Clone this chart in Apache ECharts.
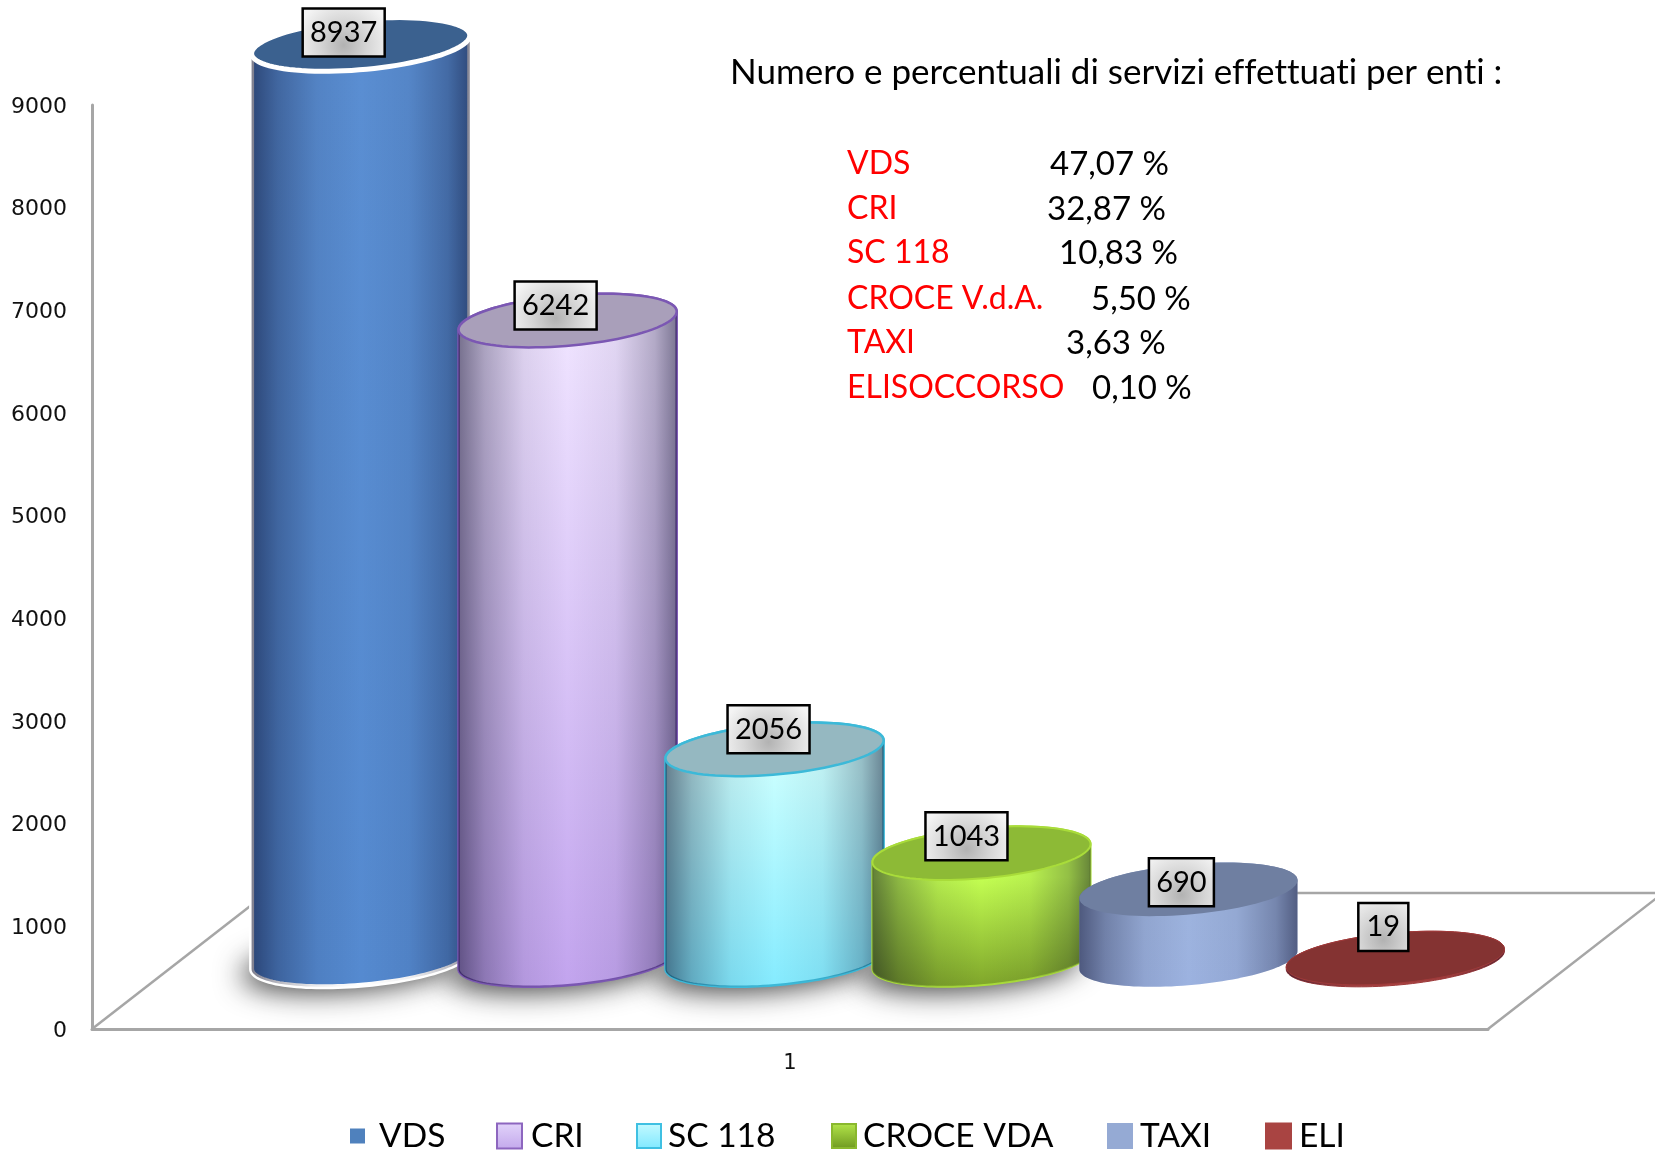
<!DOCTYPE html>
<html>
<head>
<meta charset="utf-8">
<style>html,body{margin:0;padding:0;background:#fff}#c{width:1655px;height:1154px}</style>
<script src="https://cdn.jsdelivr.net/npm/echarts@6/dist/echarts.min.js"></script>
</head>
<body>
<div id="c"></div>
<script>
const categories = ['1'];
const seriesNames = ['VDS', 'CRI', 'SC 118', 'CROCE VDA', 'TAXI', 'ELI'];
const seriesValues = [8937, 6242, 2056, 1043, 690, 19];
const yTicks = [0, 1000, 2000, 3000, 4000, 5000, 6000, 7000, 8000, 9000];
const heading = 'Numero e percentuali di servizi effettuati per enti :';
const pctNames = ['VDS', 'CRI', 'SC 118', 'CROCE V.d.A.', 'TAXI', 'ELISOCCORSO'];
const pctValues = ['47,07 %', '32,87 %', '10,83 %', '5,50 %', '3,63 %', '0,10 %'];

// styling
const TEXT_FONT = 'Lato, "Open Sans", sans-serif';
const bodyTop = ['#5a8ed2', '#eee2ff', '#c8feff', '#c4ff52', '#9db3de', '#a94442'];
const bodyBottom = ['#558ad0', '#c2a4ee', '#84ebff', '#7ea42a', '#9cb2e0', '#a94442'];
const topFace = ['#3b618f', '#a99fba', '#95b8c1', '#8dba36', '#6f7fa1', '#843332'];
const edgeColor = ['#ffffff', '#7b57b3', '#3cb9d8', '#a9dc3a', '#8fa6d2', '#a03a3a'];
const edgeWidth = [5, 2.5, 2.5, 2, 0, 1];
const hasShadow = [true, true, true, true, false, false];
const labelShift = [[-17, -12], [-12, -15], [-6, -20], [-15, -17], [-7, -7], [-12, -31]];
const labelWidth = {4: 82, 3: 65, 2: 50};
const legendIcon = [
  '#4f81bd',
  {type:'linear',x:0,y:0,x2:0,y2:1,colorStops:[{offset:0,color:'#e2d4fa'},{offset:1,color:'#c3a8ec'}]},
  {type:'linear',x:0,y:0,x2:0,y2:1,colorStops:[{offset:0,color:'#c4faff'},{offset:1,color:'#80e8ff'}]},
  {type:'linear',x:0,y:0,x2:0,y2:1,colorStops:[{offset:0,color:'#b4e64a'},{offset:1,color:'#6e9820'}]},
  '#95aad4',
  '#a94442'
];
const legendBorder = ['#4f81bd', '#8d66bf', '#3fc0e2', '#8ab82e', '#95aad4', '#a94442'];
const legendLeft = [345, 491, 631, 826, 1102, 1260];
const legendSize = [15, 25, 24, 24, 24, 25];
const legendPad = [9, 4, 2, 2, 3, 3];
const pctValueX = [1050, 1047, 1059, 1091, 1066, 1092];
const pctRowY = [168, 213, 257, 303, 347, 392];
const OFFSCREEN = 4000;

// plain glyphs, no typographic ligatures, as in the reference
const nativeGetContext = HTMLCanvasElement.prototype.getContext;
HTMLCanvasElement.prototype.getContext = function () {
  const c = nativeGetContext.apply(this, arguments);
  if (c && 'textRendering' in c) c.textRendering = 'optimizeSpeed';
  return c;
};

function ellipsePts(cx, cy, a, b, rot, t0, t1, n) {
  const pts = [], c = Math.cos(rot), s = Math.sin(rot);
  for (let k = 0; k <= n; k++) {
    const t = t0 + (t1 - t0) * k / n;
    const ex = a * Math.cos(t), ey = b * Math.sin(t);
    pts.push([cx + ex * c - ey * s, cy + ex * s + ey * c]);
  }
  return pts;
}

function cylinder(i) {
  return function (params, api) {
    const layout = api.barLayout({count: seriesValues.length, barGap: '-5.5%', barCategoryGap: '10.2%'})[i];
    const base = api.coord([api.value(0), 0]);
    const top = api.coord([api.value(0), api.value(1)]);
    const cx = base[0] + layout.offsetCenter;
    const a = layout.width / 2, b = layout.width * 0.115, rot = -5 * Math.PI / 180;
    const tilt = Math.atan2(-(b / a) * Math.tan(rot), 1);
    const tR = tilt, tL = tilt + Math.PI;
    const lower = ellipsePts(cx, base[1], a, b, rot, tR, tL, 60);
    const upper = ellipsePts(cx, top[1], a, b, rot, tL, tR + 2 * Math.PI, 60);
    const pts = lower.concat(upper);
    const children = [];
    if (hasShadow[i]) {
      // only the blurred shadow of this far-off ellipse lands on the floor
      children.push({
        type: 'polygon', z2: 1, silent: true,
        shape: {points: ellipsePts(cx - 10 - OFFSCREEN, base[1] + 6, a, b, rot, 0, 2 * Math.PI, 72)},
        style: {fill: '#444', shadowBlur: 28, shadowColor: 'rgba(60,60,60,0.95)', shadowOffsetX: OFFSCREEN}
      });
    }
    const z = 10 + i * 5;
    const stop = Math.min(0.9, 2 * b / (base[1] - top[1] + 2 * b + 1));
    children.push({
      type: 'polygon', z2: z, shape: {points: pts},
      style: {
        fill: {type:'linear',x:0,y:0,x2:0,y2:1,colorStops:[{offset:0,color:bodyTop[i]},{offset:stop,color:bodyTop[i]},{offset:1,color:bodyBottom[i]}]},
        stroke: edgeWidth[i] ? edgeColor[i] : null, lineWidth: edgeWidth[i]
      }
    });
    children.push({
      type: 'polygon', z2: z + 1, silent: true, shape: {points: pts},
      style: {
        fill: {type:'linear',x:0,y:0,x2:1,y2:0,colorStops:[
          {offset:0,color:'rgba(0,0,30,0.5)'},{offset:0.12,color:'rgba(0,0,30,0.28)'},
          {offset:0.3,color:'rgba(0,0,30,0.08)'},{offset:0.5,color:'rgba(0,0,30,0)'},
          {offset:0.72,color:'rgba(0,0,30,0.06)'},{offset:0.9,color:'rgba(0,0,30,0.25)'},
          {offset:1,color:'rgba(0,0,30,0.48)'}]}
      }
    });
    children.push({
      type: 'polygon', z2: z + 2, shape: {points: ellipsePts(cx, top[1], a, b, rot, 0, 2 * Math.PI, 90)},
      style: {fill: topFace[i], stroke: edgeWidth[i] ? edgeColor[i] : null, lineWidth: edgeWidth[i]}
    });
    const lx = cx + labelShift[i][0], ly = top[1] + labelShift[i][1];
    const txt = String(api.value(1));
    const w = labelWidth[txt.length], h = 48;
    children.push({
      type: 'rect', z2: 200, silent: true,
      shape: {x: lx - w / 2, y: ly - h / 2, width: w, height: h},
      style: {
        fill: {type:'radial',x:0.5,y:0.75,r:0.95,colorStops:[{offset:0,color:'#b2b2b2'},{offset:0.5,color:'#d6d6d6'},{offset:1,color:'#f4f4f4'}]},
        stroke: '#000', lineWidth: 2.5
      }
    });
    children.push({
      type: 'text', z2: 201, silent: true, x: lx, y: ly,
      style: {text: txt, x: 0, y: 0, fill: '#000', font: '29px ' + TEXT_FONT, align: 'center', verticalAlign: 'middle'}
    });
    return {type: 'group', children};
  };
}

function floorRender(params, api) {
  const g = params.coordSys;
  const dx = 175, dy = -136;
  const lx = g.x, rx = g.x + g.width, y = g.y + g.height;
  const st = {stroke: '#a6a6a6', lineWidth: 2.5, fill: null};
  const seg = (x1, y1, x2, y2) => ({type: 'line', z2: 0, silent: true, shape: {x1, y1, x2, y2}, style: st});
  return {type: 'group', children: [
    seg(lx, y, lx + dx, y + dy),
    seg(rx, y, rx + dx, y + dy),
    seg(lx + dx, y + dy, rx + dx, y + dy)
  ]};
}

const series = [{
  type: 'custom', name: 'piano', xAxisIndex: 0, yAxisIndex: 0, silent: true,
  data: [[categories[0], 0]], renderItem: floorRender, encode: {x: 0, y: 1}, z: 1
}];
seriesNames.forEach((name, i) => series.push({
  type: 'custom', name, xAxisIndex: 1, yAxisIndex: 1, clip: false, z: 2,
  itemStyle: {color: typeof legendIcon[i] === 'string' ? legendIcon[i] : bodyBottom[i]},
  data: [[categories[0], seriesValues[i]]], encode: {x: 0, y: 1}, renderItem: cylinder(i)
}));

const legends = seriesNames.map((name, i) => ({
  left: legendLeft[i], top: 1135 - 21, selectedMode: false,
  height: 40, itemWidth: legendSize[i], itemHeight: legendSize[i], icon: 'rect', orient: 'horizontal',
  data: [{name, icon: 'rect', itemStyle: {color: legendIcon[i], borderColor: legendBorder[i], borderWidth: i === 0 ? 0 : 2}}],
  textStyle: {fontFamily: TEXT_FONT, fontSize: 33.5, color: '#000', padding: [0, 0, 0, legendPad[i]]}
}));

const graphics = [];
pctNames.forEach((t, i) => {
  graphics.push({type: 'text', left: 847, top: pctRowY[i] - 20, z: 50,
    style: {text: t, fill: '#ff0000', font: '32px ' + TEXT_FONT}});
  graphics.push({type: 'text', left: pctValueX[i], top: pctRowY[i] - 20, z: 50,
    style: {text: pctValues[i], fill: '#000', font: '33px ' + TEXT_FONT}});
});

const chart = echarts.init(document.getElementById('c'), null, {renderer: 'canvas', width: 1655, height: 1154});
chart.setOption({
  animation: false,
  backgroundColor: '#ffffff',
  title: {text: heading, left: 730, top: 55, padding: 0, textStyle: {fontFamily: TEXT_FONT, fontSize: 35, fontWeight: 'normal', color: '#000'}},
  legend: legends,
  grid: [
    {left: 92, top: 105, width: 1396, height: 924},
    {left: 180, top: 38, width: 1396, height: 922}
  ],
  xAxis: [
    {type: 'category', gridIndex: 0, data: categories, axisTick: {show: false},
     axisLine: {lineStyle: {color: '#a6a6a6', width: 3}},
     axisLabel: {margin: 24, fontFamily: 'DejaVu Sans', fontSize: 21, color: '#111'}},
    {type: 'category', gridIndex: 1, data: categories, show: false}
  ],
  yAxis: [
    {type: 'value', gridIndex: 0, min: yTicks[0], max: yTicks[yTicks.length - 1], interval: yTicks[1] - yTicks[0],
     splitLine: {show: false}, axisTick: {show: false},
     axisLine: {show: true, lineStyle: {color: '#a6a6a6', width: 3}},
     axisLabel: {margin: 25, fontFamily: 'DejaVu Sans', fontSize: 22, color: '#111', verticalAlign: 'top', lineHeight: 4, formatter: (v) => String(v)}},
    {type: 'value', gridIndex: 1, min: yTicks[0], max: yTicks[yTicks.length - 1], show: false, splitLine: {show: false}}
  ],
  graphic: graphics,
  series
});
</script>
</body>
</html>
